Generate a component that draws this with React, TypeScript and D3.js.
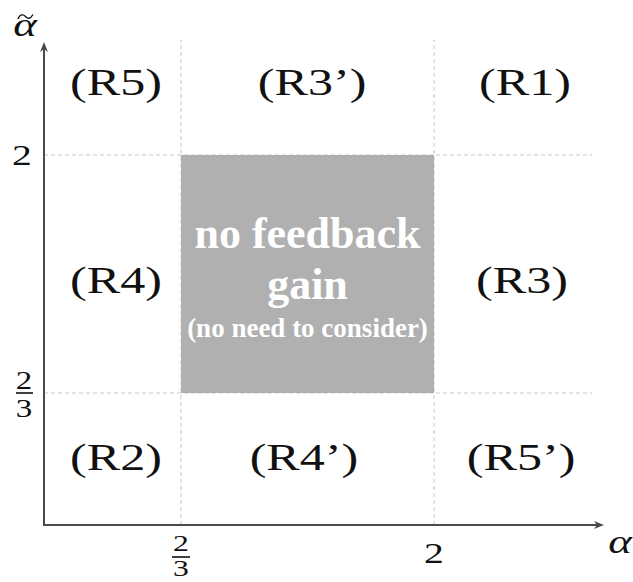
import React from "react";
import * as d3 from "d3";

// Region boundaries along each axis (schematic, piecewise)
const xBreaks = [0, 1, 2, 3];
const yBreaks = [0, 1, 2, 3];
// grid break labels
const xTickLabels = [{ at: 1, num: "2", den: "3" }, { at: 2, num: "2", den: "" }];
const yTickLabels = [{ at: 1, num: "2", den: "3" }, { at: 2, num: "2", den: "" }];

// region labels in data units
const regionNames = ["(R5)", "(R3’)", "(R1)", "(R4)", "(R3)", "(R2)", "(R4’)", "(R5’)"];
const regionX = [0.526, 1.518, 2.535, 0.526, 2.518, 0.526, 1.486, 2.512];
const regionY = [2.53, 2.53, 2.53, 1.42, 1.42, 0.42, 0.42, 0.42];

// infeasible region
const grayRegion = { x0: 1, x1: 2, y0: 1, y1: 2 };
const grayLines = ["no feedback", "gain"];
const graySub = "(no need to consider)";

const W = 633;
const H = 582;

export default function App() {
  const x = d3.scaleLinear().domain(xBreaks).range([44, 181, 434, 604]);
  const y = d3.scaleLinear().domain(yBreaks).range([525, 393, 155, 42]);
  const SX = 1.32;
  const serif = "'Liberation Serif', 'Times New Roman', serif";
  const axisColor = "#4a4a4a";
  const dash = "#c8c8c8";

  const stretched = (cx: number, by: number, txt: string, size: number, extra: any = {}) => (
    <text
      transform={`translate(${cx},${by}) scale(${SX},1)`}
      textAnchor="middle"
      fontFamily={serif}
      fontSize={size}
      fill="#111"
      {...extra}
    >
      {txt}
    </text>
  );

  const gx0 = x(grayRegion.x0), gx1 = x(grayRegion.x1);
  const gy0 = y(grayRegion.y1), gy1 = y(grayRegion.y0);
  const gcx = (gx0 + gx1) / 2;

  return (
    <svg width={W} height={H} style={{ position: "absolute", left: 0, top: 0, background: "#fff" }}>
      {/* dashed guides */}
      {[1, 2].map((v) => (
        <line key={"v" + v} x1={x(v)} x2={x(v)} y1={y(0)} y2={y(3) - 2} stroke={dash} strokeWidth={1} strokeDasharray="4,3" />
      ))}
      {[1, 2].map((v) => (
        <line key={"h" + v} x1={x(0)} x2={x(2.93)} y1={y(v)} y2={y(v)} stroke={dash} strokeWidth={1} strokeDasharray="4,3" />
      ))}
      {/* gray region */}
      <rect x={gx0} y={gy0} width={gx1 - gx0} height={gy1 - gy0} fill="#b0b0b0" />
      <text x={gcx} y={248} textAnchor="middle" fontFamily={serif} fontWeight="bold" fontSize={44} fill="#fff">{grayLines[0]}</text>
      <text x={gcx} y={299} textAnchor="middle" fontFamily={serif} fontWeight="bold" fontSize={44} fill="#fff">{grayLines[1]}</text>
      <text x={gcx} y={337} textAnchor="middle" fontFamily={serif} fontWeight="bold" fontSize={27} fill="#fff">{graySub}</text>

      {/* axes */}
      <line x1={x(0)} x2={x(3) - 3} y1={y(0)} y2={y(0)} stroke={axisColor} strokeWidth={2} />
      <line x1={x(0)} x2={x(0)} y1={y(0) + 1} y2={y(3) + 3} stroke={axisColor} strokeWidth={2} />
      <path d={`M${x(3)},${y(0)} L${x(3) - 10},${y(0) - 4} L${x(3) - 7},${y(0)} L${x(3) - 10},${y(0) + 4} Z`} fill={axisColor} />
      <path d={`M${x(0)},${y(3)} L${x(0) - 4},${y(3) + 10} L${x(0)},${y(3) + 7} L${x(0) + 4},${y(3) + 10} Z`} fill={axisColor} />

      {/* axis titles */}
      {stretched(620, 553, "α", 34, { fontStyle: "italic" })}
      {stretched(25, 36, "α", 34, { fontStyle: "italic" })}
      <path d="M18,19 C20,14 23,14 25.5,16.5 S30,19.5 33,14.5" fill="none" stroke="#111" strokeWidth={1.4} />

      {/* y tick labels */}
      {yTickLabels.map((t, i) =>
        t.den ? (
          <g key={"yt" + i}>
            {stretched(24, y(t.at) - 4, t.num, 25)}
            <line x1={16} x2={33} y1={y(t.at)} y2={y(t.at)} stroke="#111" strokeWidth={1.6} />
            {stretched(24, y(t.at) + 24, t.den, 25)}
          </g>
        ) : (
          <g key={"yt" + i}>{stretched(22, y(t.at) + 10, t.num, 30)}</g>
        )
      )}
      {/* x tick labels */}
      {xTickLabels.map((t, i) =>
        t.den ? (
          <g key={"xt" + i}>
            {stretched(x(t.at), 551, t.num, 24)}
            <line x1={x(t.at) - 9} x2={x(t.at) + 9} y1={557} y2={557} stroke="#111" strokeWidth={1.6} />
            {stretched(x(t.at), 576, t.den, 24)}
          </g>
        ) : (
          <g key={"xt" + i}>{stretched(x(t.at), 563, t.num, 30)}</g>
        )
      )}

      {/* region labels */}
      {regionNames.map((n, i) => (
        <g key={n}>{stretched(x(regionX[i]), y(regionY[i]), n, 38)}</g>
      ))}
    </svg>
  );
}
